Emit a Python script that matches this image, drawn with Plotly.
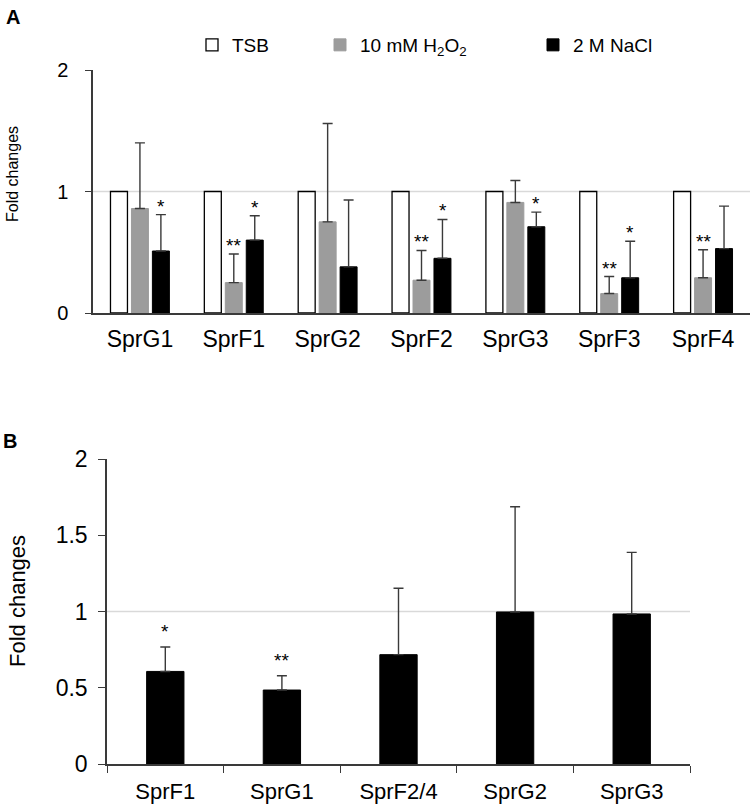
import plotly.graph_objects as go

# panel A data
genes_a = ["SprG1", "SprF1", "SprG2", "SprF2", "SprG3", "SprF3", "SprF4"]
tsb = [1, 1, 1, 1, 1, 1, 1]
h2o2 = [0.86, 0.25, 0.75, 0.27, 0.91, 0.16, 0.29]
h2o2_err = [0.54, 0.235, 0.81, 0.245, 0.18, 0.14, 0.23]
nacl = [0.51, 0.60, 0.38, 0.45, 0.71, 0.29, 0.53]
nacl_err = [0.30, 0.20, 0.55, 0.32, 0.12, 0.30, 0.35]
h2o2_sig = ["", "**", "", "**", "", "**", "**"]
nacl_sig = ["*", "*", "", "*", "*", "*", ""]

# panel B data
genes_b = ["SprF1", "SprG1", "SprF2/4", "SprG2", "SprG3"]
fold_b = [0.607, 0.485, 0.717, 0.997, 0.984]
fold_b_err = [0.16, 0.094, 0.435, 0.69, 0.404]
sig_b = ["*", "**", "", "", ""]

W, H = 756, 806


def px(p):
    return p / W


def py(p):
    return 1 - p / H


FONT = "Arial, Liberation Sans, sans-serif"
GRAY = "#9c9c9c"
AXC = "#3a3a3a"
errstyle = dict(type="data", symmetric=False, color=AXC, thickness=1.4, width=5)

fig = go.Figure()
fig.add_trace(go.Bar(x=genes_a, y=tsb, name="TSB", xaxis="x", yaxis="y",
                     marker=dict(color="white", line=dict(color="black", width=1.3)),
                     legend="legend"))
fig.add_trace(go.Bar(x=genes_a, y=h2o2, name="10 mM H<sub>2</sub>O<sub>2</sub>", xaxis="x", yaxis="y",
                     marker=dict(color=GRAY, line=dict(color=GRAY, width=1)),
                     error_y=dict(errstyle, array=h2o2_err, arrayminus=[0] * len(h2o2)),
                     legend="legend2"))
fig.add_trace(go.Bar(x=genes_a, y=nacl, name="2 M NaCl", xaxis="x", yaxis="y",
                     marker=dict(color="black", line=dict(color="black", width=1)),
                     error_y=dict(errstyle, array=nacl_err, arrayminus=[0] * len(nacl)),
                     legend="legend3"))
fig.add_trace(go.Bar(x=genes_b, y=fold_b, xaxis="x2", yaxis="y2", width=0.32,
                     marker=dict(color="black", line=dict(color="black", width=1)),
                     error_y=dict(errstyle, array=fold_b_err, arrayminus=[0] * len(fold_b)),
                     showlegend=False))

ann = []
# significance stars
for g, v, e, s in zip(genes_a, h2o2, h2o2_err, h2o2_sig):
    if s:
        ann.append(dict(x=g, y=v + e, xref="x", yref="y", text=s, showarrow=False,
                        yanchor="bottom", xshift=0, yshift=-4, font=dict(size=19)))
for g, v, e, s in zip(genes_a, nacl, nacl_err, nacl_sig):
    if s:
        ann.append(dict(x=g, y=v + e, xref="x", yref="y", text=s, showarrow=False,
                        yanchor="bottom", xshift=21, yshift=-4, font=dict(size=19)))
for g, v, e, s in zip(genes_b, fold_b, fold_b_err, sig_b):
    if s:
        ann.append(dict(x=g, y=v + e, xref="x2", yref="y2", text=s, showarrow=False,
                        yanchor="bottom", yshift=3, font=dict(size=19)))

# axis titles and panel letters
lbl = dict(xref="paper", yref="paper", showarrow=False, xanchor="center", yanchor="middle")
ann.append(dict(lbl, x=px(12), y=py(174), text="Fold changes", textangle=-90,
                font=dict(size=16)))
ann.append(dict(lbl, x=px(17), y=py(601), text="Fold changes", textangle=-90,
                font=dict(size=22)))
ann.append(dict(lbl, x=px(13), y=py(17), text="<b>A</b>", font=dict(size=20)))
ann.append(dict(lbl, x=px(10), y=py(441), text="<b>B</b>", font=dict(size=20)))

shapes = [
    dict(type="line", xref="x domain", yref="y", x0=0, x1=1, y0=1, y1=1,
         line=dict(color="#d9d9d9", width=1.3), layer="below"),
    dict(type="line", xref="x2 domain", yref="y2", x0=0, x1=1, y0=1, y1=1,
         line=dict(color="#d9d9d9", width=1.3), layer="below"),
]

leg = dict(orientation="h", yanchor="middle", xanchor="left", font=dict(size=19),
           bgcolor="rgba(0,0,0,0)")

fig.update_layout(
    width=W, height=H,
    margin=dict(l=0, r=0, t=0, b=0, autoexpand=False),
    paper_bgcolor="white", plot_bgcolor="white",
    font=dict(family=FONT, color="black"),
    barmode="group", bargap=0.33, bargroupgap=0.19,
    xaxis=dict(domain=[px(93), px(750)], anchor="y", showline=True, linecolor=AXC,
               linewidth=1.5, ticks="", showgrid=False, tickfont=dict(size=23),
               ticklabelstandoff=5),
    yaxis=dict(domain=[py(313), py(70)], anchor="x", range=[0, 2],
               tickvals=[0, 1, 2], showline=True, linecolor=AXC, linewidth=1.5,
               ticks="outside", ticklen=6, tickcolor=AXC, showgrid=False,
               zeroline=False, tickfont=dict(size=20), ticklabelstandoff=13),
    xaxis2=dict(domain=[px(107), px(690)], anchor="y2", showline=True, linecolor=AXC,
                linewidth=1.5, ticks="outside", tickson="boundaries", ticklen=7,
                tickcolor=AXC, showgrid=False, tickfont=dict(size=22),
                ticklabelstandoff=7),
    yaxis2=dict(domain=[py(764), py(459)], anchor="x2", range=[0, 2],
                tickvals=[0, 0.5, 1, 1.5, 2], showline=True, linecolor=AXC,
                linewidth=1.5, ticks="outside", ticklen=7, tickcolor=AXC,
                showgrid=False, zeroline=False, tickfont=dict(size=23),
                ticklabelstandoff=6),
    legend=dict(leg, x=px(192), y=py(45)),
    legend2=dict(leg, x=px(320), y=py(45)),
    legend3=dict(leg, x=px(533), y=py(45)),
    annotations=ann,
    shapes=shapes,
)

# drop the default 8px page margin so the figure fills the window
fig.write_html("out.html", config={"displayModeBar": False},
               post_script="document.body.style.margin='0px';")
